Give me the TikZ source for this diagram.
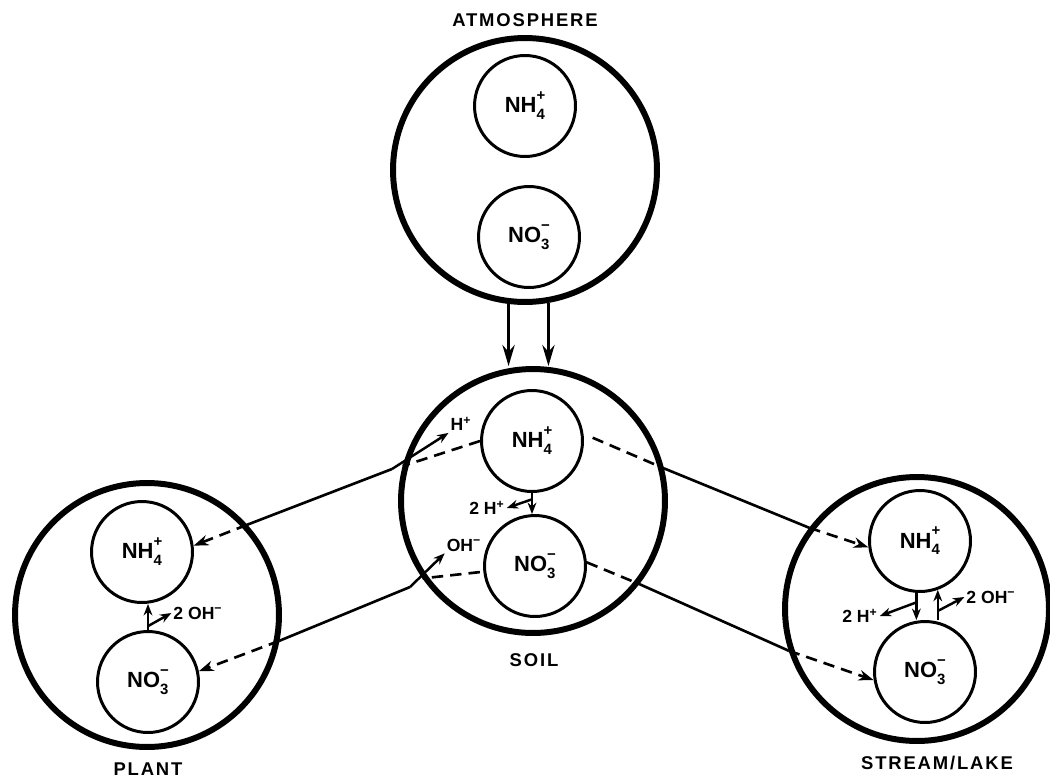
\documentclass[tikz,border=0pt]{standalone}
\usepackage{fontspec}
\setmainfont{Liberation Sans}
\usetikzlibrary{arrows.meta,calc}

\newcommand\ion[3]{#1\rlap{\raisebox{-0.6ex}{\fontsize{8.5}{9}\selectfont #2}}%
  \raisebox{1.05ex}{\fontsize{8.5}{9}\selectfont #3}}

\begin{document}
\begin{tikzpicture}[x=0.02cm, y=-0.02cm,
    ring/.style={circle, draw, line width=3.4pt, minimum size=5.28cm, inner sep=0pt},
    pool/.style={circle, draw, line width=1.7pt, minimum size=2.02cm, inner sep=0pt,
      font=\bfseries\fontsize{12.5}{14}\selectfont},
    placelbl/.style={font=\bfseries\fontsize{10.5}{12}\selectfont\addfontfeatures{LetterSpace=10}},
    ionlbl/.style={font=\bfseries\fontsize{10}{11}\selectfont, inner sep=1pt},
    flow/.style={line width=1.5pt},
    flowdash/.style={line width=1.5pt, dash pattern=on 6.5pt off 4pt},
    headed/.style={-{Stealth[length=8.5pt,width=6pt]}},
    smallarrow/.style={line width=1.4pt, -{Stealth[length=6.5pt,width=5pt]}},
    deposit/.style={line width=1.5pt, -{Stealth[length=12pt,width=7pt]}}]
  \useasboundingbox (0,0) rectangle (1050,781);

  % compartments
  \node[ring] (atm) at (525,170) {};
  \node[pool] (anh) at (525,106) {\ion{NH}{4}{+}};
  \node[pool] (ano) at (529,237) {\ion{NO}{3}{−}};
  \node[placelbl] (atmlbl) at (525,20) {ATMOSPHERE};

  \node[ring] (soil) at (533,501) {};
  \node[pool] (snh) at (532,441) {\ion{NH}{4}{+}};
  \node[pool] (sno) at (535,566) {\ion{NO}{3}{−}};
  \node[placelbl] (soillbl) at (534,660) {SOIL};

  \node[ring] (plant) at (147,615) {};
  \node[pool] (pnh) at (142,552) {\ion{NH}{4}{+}};
  \node[pool] (pno) at (148,682) {\ion{NO}{3}{−}};
  \node[placelbl] (plantlbl) at (148,769) {PLANT};

  \node[ring] (stream) at (917,609) {};
  \node[pool] (wnh) at (920,541) {\ion{NH}{4}{+}};
  \node[pool] (wno) at (925,672) {\ion{NO}{3}{−}};
  \node[placelbl] (streamlbl) at (937,763) {STREAM/LAKE};

  % small ion labels
  \node[ionlbl] (hp) at (461,424) {H\textsuperscript{+}};
  \node[ionlbl] (oh) at (464,545) {OH\textsuperscript{−}};
  \node[ionlbl] (sh) at (487,508) {2 H\textsuperscript{+}};
  \node[ionlbl] (pol) at (198,613) {2 OH\textsuperscript{−}};
  \node[ionlbl] (wh) at (860,616) {2 H\textsuperscript{+}};
  \node[ionlbl] (wol) at (991,597) {2 OH\textsuperscript{−}};

  % deposition
  \draw[deposit] (atm.263) -- (atm.263 |- soil.north);
  \draw[deposit] (atm.280) -- (atm.280 |- soil.north);

  % soil to plant
  \coordinate (j1) at (392,469);
  \coordinate (j2) at (410,587);
  \draw[flowdash] (snh.180) -- (soil.165);
  \draw[flow] (j1) -- (plant.42);
  \draw[flowdash, headed] (plant.42) -- (pnh.7);
  \draw[smallarrow] (j1) -- (hp.south west);
  \draw[flowdash, shorten <=2pt] (sno) -- (soil.215);
  \draw[flow] (j2) -- (plant.349);
  \draw[flowdash, headed] (plant.349) -- (pno.12);
  \draw[smallarrow] (j2) -- (oh.south west);

  % soil to stream/lake
  \draw[flowdash, shorten <=0.2cm] (snh.8) -- (soil.14);
  \draw[flow] (soil.14) -- (stream.143);
  \draw[flowdash, headed] (stream.143) -- (wnh.187);
  \draw[flowdash] (sno.4) -- (soil.322);
  \draw[flow] (soil.322) -- (stream.198);
  \draw[flowdash, headed] (stream.198) -- (wno.189);

  % conversions
  \draw[smallarrow] (snh.south) -- (snh.south |- sno.north);
  \draw[smallarrow] ($(snh.south)!0.3!(snh.south |- sno.north)$) -- (sh.east);
  \draw[smallarrow] (pno.north) -- (pno.north |- pnh.south);
  \draw[smallarrow] ($(pno.north)!0.15!(pno.north |- pnh.south)$) -- (pol.west);
  \draw[smallarrow] (wnh.266) -- (wnh.266 |- wno.north);
  \draw[smallarrow] ($(wnh.266)!0.35!(wnh.266 |- wno.north)$) -- (wh.east);
  \draw[smallarrow] (wnh.290 |- wno.north) -- (wnh.290);
  \draw[smallarrow] ($(wnh.290 |- wno.north)!0.3!(wnh.290)$) -- (wol.west);
\end{tikzpicture}
\end{document}
